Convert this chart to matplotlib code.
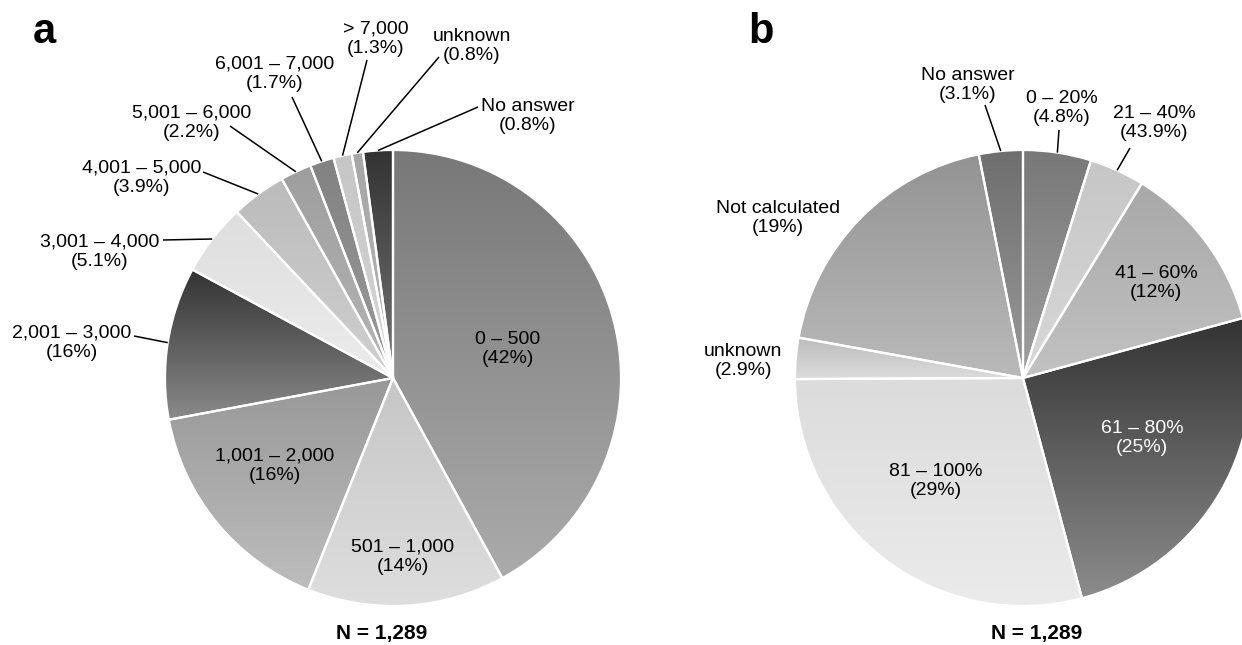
import matplotlib
matplotlib.use("Agg")
import matplotlib.pyplot as plt
import numpy as np
from matplotlib.colors import LinearSegmentedColormap

plt.rcParams["font.family"] = ["Liberation Sans", "DejaVu Sans"]

W, H = 1242, 645          # canvas in pixels (dpi 100)
R = 228                   # pie radius in pixels

# ── panel a ───────────────────────────────────────────────────────────────
cats_a = ["0 – 500", "501 – 1,000", "1,001 – 2,000", "2,001 – 3,000",
          "3,001 – 4,000", "4,001 – 5,000", "5,001 – 6,000", "6,001 – 7,000",
          "> 7,000", "unknown", "No answer"]
shares_a = [42, 14, 16, 10.8, 5.1, 3.9, 2.2, 1.7, 1.3, 0.8, 2.1]
pct_a = ["42%", "14%", "16%", "16%", "5.1%", "3.9%", "2.2%", "1.7%",
         "1.3%", "0.8%", "0.8%"]

# ── panel b ───────────────────────────────────────────────────────────────
cats_b = ["0 – 20%", "21 – 40%", "41 – 60%", "61 – 80%", "81 – 100%",
          "unknown", "Not calculated", "No answer"]
shares_b = [4.8, 3.9, 12, 25, 29, 2.9, 19, 3.1]
pct_b = ["4.8%", "43.9%", "12%", "25%", "29%", "2.9%", "19%", "3.1%"]

N_TOTAL = "1,289"

# vertical gradient per wedge: (top, bottom) grey levels
grad_a = [("#787878", "#ababab"), ("#c6c6c6", "#dedede"), ("#989898", "#bdbdbd"),
          ("#333333", "#8a8a8a"), ("#dedede", "#ececec"), ("#bbbbbb", "#d0d0d0"),
          ("#9e9e9e", "#b5b5b5"), ("#828282", "#9a9a9a"), ("#c6c6c6", "#d6d6d6"),
          ("#a6a6a6", "#b8b8b8"), ("#333333", "#777777")]
grad_b = [("#787878", "#a0a0a0"), ("#c6c6c6", "#d8d8d8"), ("#a8a8a8", "#c2c2c2"),
          ("#333333", "#8c8c8c"), ("#dcdcdc", "#ebebeb"), ("#bcbcbc", "#dcdcdc"),
          ("#939393", "#bababa"), ("#6e6e6e", "#9a9a9a")]

# label placement (x, y from top) and optional leader-line start
layout_a = {
    0: ((508, 349), None), 1: ((403, 557), None), 2: ((275, 466), None),
    3: ((72, 343), (134, 336)), 4: ((100, 252), (163, 240)),
    5: ((142, 178), (203, 172)), 6: ((192, 123), (230, 126)),
    7: ((275, 74), (292, 97)), 8: ((376, 39), (367, 60)),
    9: ((472, 46), (439, 57)), 10: ((528, 116), (478, 107)),
}
layout_b = {
    0: ((1062, 108), (1059, 130)), 1: ((1154, 123), (1130, 148)),
    2: ((1156, 283), None), 3: ((1142, 438), None), 4: ((936, 481), None),
    5: ((743, 361), None), 6: ((778, 218), None), 7: ((968, 85), (985, 105)),
}


def draw_pie(ax, shares, center, grads):
    wedges, _ = ax.pie(shares, center=center, radius=R, startangle=90,
                       counterclock=False, frame=True,
                       wedgeprops=dict(facecolor="none", edgecolor="white",
                                       linewidth=1.6))
    ramp = np.linspace(0, 1, 256).reshape(-1, 1)
    for w, (top, bot) in zip(wedges, grads):
        t = np.radians(np.linspace(w.theta1, w.theta2, 90))
        xs = np.r_[w.center[0], w.center[0] + w.r * np.cos(t)]
        ys = np.r_[w.center[1], w.center[1] + w.r * np.sin(t)]
        cmap = LinearSegmentedColormap.from_list("g", [bot, top])
        im = ax.imshow(ramp, extent=(xs.min(), xs.max(), ys.min(), ys.max()),
                       origin="lower", cmap=cmap, aspect="auto",
                       interpolation="bilinear", zorder=1)
        im.set_clip_path(w)
        w.set_zorder(2)
    return wedges


def annotate(ax, wedges, cats, pcts, layout, white=()):
    for i, (w, cat, pct) in enumerate(zip(wedges, cats, pcts)):
        (tx, ty), lead = layout[i]
        ax.text(tx, H - ty, f"{cat}\n({pct})", ha="center", va="center",
                multialignment="center", fontsize=14, linespacing=1.22,
                color="white" if i in white else "black", zorder=4)
        if lead is not None:
            mid = np.radians((w.theta1 + w.theta2) / 2)
            ex = w.center[0] + w.r * np.cos(mid)
            ey = w.center[1] + w.r * np.sin(mid)
            ax.plot([lead[0], ex], [H - lead[1], ey], color="black",
                    lw=1.1, solid_capstyle="butt", zorder=3)


fig = plt.figure(figsize=(W / 100, H / 100), dpi=100)
ax = fig.add_axes([0, 0, 1, 1])

wa = draw_pie(ax, shares_a, (393, H - 378), grad_a)
wb = draw_pie(ax, shares_b, (1023, H - 378), grad_b)
annotate(ax, wa, cats_a, pct_a, layout_a)
annotate(ax, wb, cats_b, pct_b, layout_b, white=(3,))

ax.text(382, H - 633, f"N = {N_TOTAL}", ha="center", va="center",
        fontsize=15, fontweight="bold")
ax.text(1037, H - 633, f"N = {N_TOTAL}", ha="center", va="center",
        fontsize=15, fontweight="bold")
ax.text(33, H - 43, "a", ha="left", va="baseline", fontsize=30,
        fontweight="bold")
ax.text(748, H - 43, "b", ha="left", va="baseline", fontsize=30,
        fontweight="bold")

ax.set_xlim(0, W)
ax.set_ylim(0, H)
ax.set_aspect("equal")
ax.axis("off")

fig.savefig("out.png", dpi=100, facecolor="white")
